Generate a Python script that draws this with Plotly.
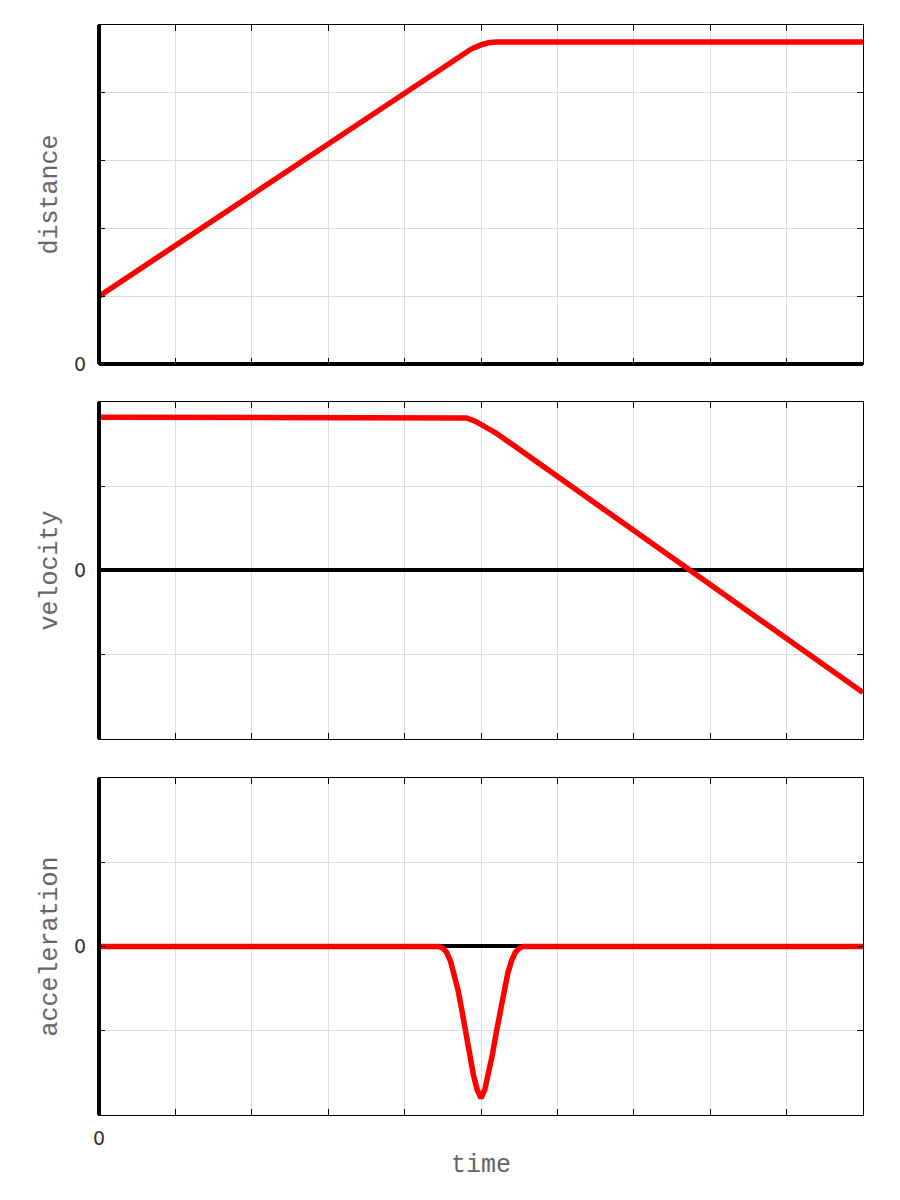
import plotly.graph_objects as go
from plotly.subplots import make_subplots

# ---- data ----
t_dist = [0, 4.75, 4.872, 4.99, 5.097, 5.2, 10]
dist = [1, 4.5625, 4.645, 4.703, 4.738, 4.75, 4.75]

t_vel = [0, 4.7, 4.81, 4.93, 5.06, 5.2, 7.74, 10]
vel = [1.82, 1.82, 1.81, 1.77, 1.71, 1.63, 0, -1.45]

t_acc = [0, 4.45, 4.5, 4.55, 4.6, 4.65, 4.7, 4.75, 4.8, 4.85, 4.9, 4.95, 5.0,
         5.05, 5.1, 5.15, 5.2, 5.25, 5.3, 5.35, 5.4, 5.45, 5.5, 5.55, 10]
acc = [0, 0, -0.02, -0.07, -0.17, -0.32, -0.52, -0.76, -1.02, -1.28, -1.52, -1.7, -1.8,
       -1.7, -1.52, -1.28, -1.02, -0.76, -0.52, -0.32, -0.17, -0.07, -0.02, 0, 0]

x_ticks = list(range(0, 11))
dist_ticks = list(range(0, 6))
va_ticks = [-2, -1, 0, 1, 2]

titles = ["distance", "velocity", "acceleration"]
x_title = "time"

RED = "#ff0000"
GRID = "#dcdcdc"

fig = make_subplots(rows=3, cols=1, shared_xaxes=False)

fig.add_trace(go.Scatter(x=t_dist, y=dist, mode="lines",
                         line=dict(color=RED, width=5.5), hoverinfo="skip"), row=1, col=1)
fig.add_trace(go.Scatter(x=t_vel, y=vel, mode="lines",
                         line=dict(color=RED, width=5.5), hoverinfo="skip"), row=2, col=1)
fig.add_trace(go.Scatter(x=t_acc, y=acc, mode="lines",
                         line=dict(color=RED, width=5.5), hoverinfo="skip"), row=3, col=1)

domains = [[0.6890, 1.0], [0.3450, 0.6541], [0.0, 0.3092]]
yranges = [[0, 5], [-2, 2], [-2, 2]]
yticks = [dist_ticks, va_ticks, va_ticks]

tick_font = dict(family="DejaVu Sans", size=19, color="#333333")
title_font = dict(family="Courier New, Courier, Nimbus Mono PS, FreeMono, Liberation Mono, monospace",
                  size=25, color="#666666")

for i in range(3):
    xa = "xaxis" if i == 0 else f"xaxis{i+1}"
    ya = "yaxis" if i == 0 else f"yaxis{i+1}"
    fig.layout[xa].update(
        range=[0, 10], tickvals=x_ticks,
        ticktext=["0"] + [""] * 10,
        showticklabels=(i == 2),
        ticks="inside", ticklen=6, tickcolor="black", tickwidth=1,
        showline=True, linecolor="black", linewidth=1, mirror="allticks",
        showgrid=True, gridcolor=GRID, gridwidth=1, zeroline=False,
        tickfont=tick_font, automargin=False, ticklabelstandoff=6,
    )
    fig.layout[ya].update(
        domain=domains[i], range=yranges[i], tickvals=yticks[i],
        ticktext=["0" if v == 0 else "" for v in yticks[i]],
        ticks="inside", ticklen=6, tickcolor="black", tickwidth=1,
        showline=True, linecolor="black", linewidth=1, mirror="allticks",
        showgrid=True, gridcolor=GRID, gridwidth=1,
        zeroline=(i > 0), zerolinecolor="black", zerolinewidth=3.5,
        tickfont=tick_font, automargin=False, ticklabelstandoff=8,
    )

annotations = []
for i in range(3):
    annotations.append(dict(text=titles[i], xref="paper", yref="paper",
                            x=-0.064, y=(domains[i][0] + domains[i][1]) / 2,
                            xanchor="center", yanchor="middle", textangle=-90,
                            showarrow=False, font=title_font))
annotations.append(dict(text=x_title, xref="paper", yref="paper", x=0.5, y=-0.0459,
                        xanchor="center", yanchor="middle", showarrow=False, font=title_font))

shapes = []
for i in range(3):
    xr = "x domain" if i == 0 else f"x{i+1} domain"
    yr = "y domain" if i == 0 else f"y{i+1} domain"
    shapes.append(dict(type="line", xref=xr, yref=yr, x0=0, x1=0, y0=0, y1=1,
                       line=dict(color="black", width=4), layer="above"))
shapes.append(dict(type="line", xref="x domain", yref="y domain", x0=0, x1=1, y0=0, y1=0,
                   line=dict(color="black", width=4), layer="above"))

fig.update_layout(
    width=900, height=1200,
    margin=dict(l=91, r=45, t=17, b=93, autoexpand=False),
    paper_bgcolor="white", plot_bgcolor="white",
    showlegend=False, shapes=shapes, annotations=annotations,
)

fig.write_html("out.html")
